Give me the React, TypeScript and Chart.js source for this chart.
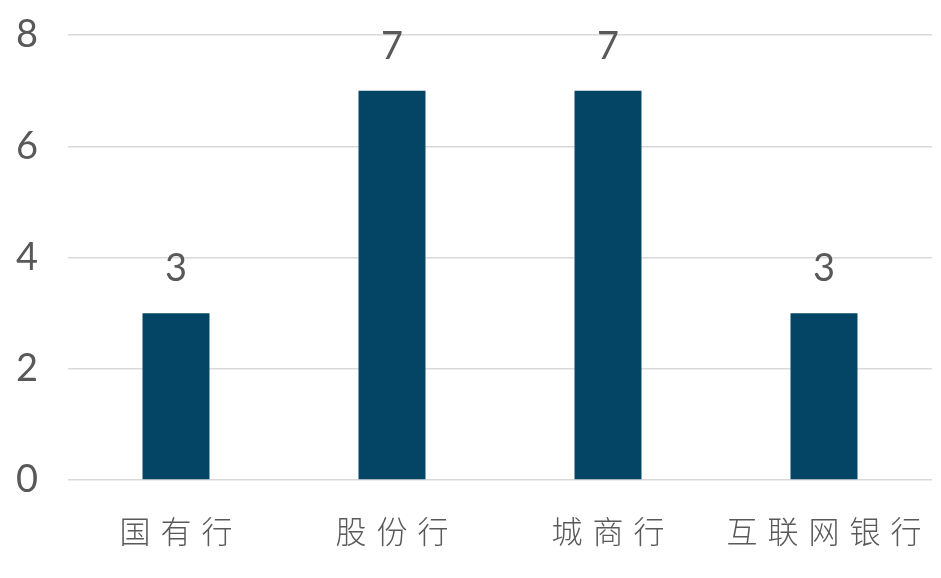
import React, { useEffect, useRef } from "react";
import { Chart, registerables } from "chart.js";

Chart.register(...registerables);

const categories: string[] = ["国有行", "股份行", "城商行", "互联网银行"];
const values: number[] = [3, 7, 7, 3];
const yTicks: number[] = [0, 2, 4, 6, 8];

const BAR_COLOR = "#044565";
const TEXT_COLOR = "#595959";
const GRID_COLOR = "#d9d9d9";

const labelPlugin = {
  id: "barLabels",
  afterDatasetsDraw(chart: any) {
    const ctx = chart.ctx as CanvasRenderingContext2D;
    const meta = chart.getDatasetMeta(0);
    ctx.save();
    ctx.font = "38px Lato";
    ctx.fillStyle = TEXT_COLOR;
    ctx.textAlign = "center";
    ctx.textBaseline = "middle";
    meta.data.forEach((el: any, i: number) => {
      ctx.fillText(String(values[i]), el.x, el.y - 44);
    });
    ctx.restore();
    // letter spacing for the category labels drawn after datasets
    (ctx as any).letterSpacing = "10px";
  },
  afterDraw(chart: any) {
    (chart.ctx as any).letterSpacing = "0px";
  },
};

export default function App() {
  const ref = useRef<HTMLCanvasElement>(null);
  useEffect(() => {
    if (!ref.current) return;
    const chart = new Chart(ref.current, {
      type: "bar",
      data: {
        labels: categories,
        datasets: [
          {
            data: values,
            backgroundColor: BAR_COLOR,
            barPercentage: 0.31,
            categoryPercentage: 1,
          },
        ],
      },
      options: {
        animation: false,
        responsive: true,
        maintainAspectRatio: false,
        layout: { padding: { top: 35, right: 9, left: 0, bottom: 0 } },
        plugins: { legend: { display: false }, tooltip: { enabled: false } },
        scales: {
          x: {
            grid: { display: false, drawTicks: false },
            border: { display: false },
            ticks: {
              z: 1,
              color: TEXT_COLOR,
              font: { family: "'Noto Sans CJK SC'", size: 31, weight: 300 },
              padding: 33,
              labelOffset: 5,
              maxRotation: 0,
              autoSkip: false,
            },
            afterFit: (s: any) => {
              s.height = 98;
              s.paddingLeft = 0;
              s.paddingRight = 0;
            },
          },
          y: {
            min: 0,
            max: 8,
            afterBuildTicks: (s: any) => {
              s.ticks = yTicks.map((v) => ({ value: v }));
            },
            grid: { color: GRID_COLOR, lineWidth: 1.5, drawTicks: false },
            border: { display: false },
            ticks: {
              color: TEXT_COLOR,
              font: { family: "Lato", size: 38 },
              padding: 30,
            },
            afterFit: (s: any) => {
              s.width = 68;
              s.paddingTop = 0;
              s.paddingBottom = 0;
            },
          },
        },
      },
      plugins: [labelPlugin],
    });
    return () => chart.destroy();
  }, []);
  return (
    <div style={{ position: "absolute", left: 0, top: 0, width: 941, height: 578, background: "#fff" }}>
      <canvas ref={ref} />
    </div>
  );
}
